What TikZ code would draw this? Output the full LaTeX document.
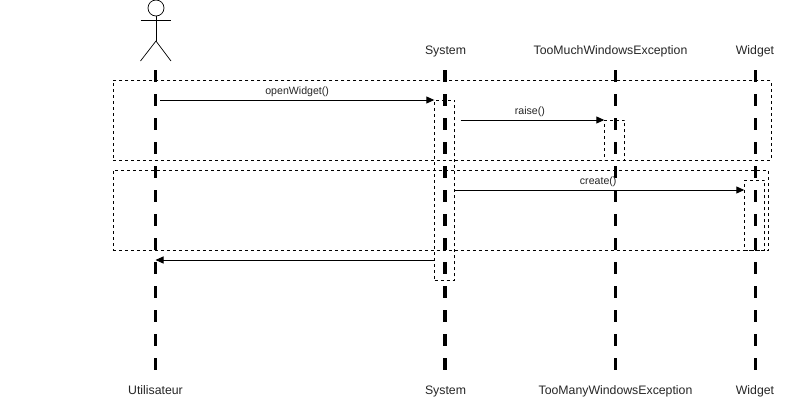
\documentclass[tikz,border=0pt]{standalone}
\usepackage{fontspec}
\setmainfont{Liberation Sans}
\usetikzlibrary{arrows.meta}
\tikzset{
  lifeline/.style={line width=3.8pt,black,dash pattern=on 12pt off 12pt},
  frame/.style={draw=black,line width=0.8pt,dash pattern=on 3pt off 3pt,fill=none},
  msg/.style={line width=0.9pt,-{Triangle[length=8pt,width=7pt]}},
  stick/.style={line width=0.7pt},
  lbl/.style={font=\fontsize{12.3}{14}\selectfont,text=black!85,inner sep=0pt,anchor=base},
  msglbl/.style={font=\fontsize{10.6}{12}\selectfont,text=black!85,inner sep=0pt}
}
\begin{document}
\begin{tikzpicture}[x=1pt,y=-1pt]
\useasboundingbox[fill=white] (0,0) rectangle (787,405);
% lifelines
\foreach \n/\x in {u/155.5,s/445,t/615.5,w/755.5}{
  \coordinate (\n top) at (\x,70);
  \coordinate (\n bot) at (\x,370);
  \draw[lifeline] (\n top) -- (\n bot);
}
% labels
\node[lbl] (ls) at (445.5,54.5) {System};
\node[lbl] (lt) at (610.5,54.5) {TooMuchWindowsException};
\node[lbl] (lw) at (755,54.5) {Widget};
\node[lbl] (bu) at (155.5,394.5) {Utilisateur};
\node[lbl] (bs) at (445.5,394.5) {System};
\node[lbl] (bt) at (615.5,394.5) {TooManyWindowsException};
\node[lbl] (bw) at (755,394.5) {Widget};
% frames
\node[frame,inner sep=0pt,minimum width=657.5pt,minimum height=80pt,anchor=north west] (f1) at (113,80) {};
\node[frame,inner sep=0pt,minimum width=655.5pt,minimum height=80pt,anchor=north west] (f2) at (112.5,170) {};
% activations
\node[frame,inner sep=0pt,minimum width=20pt,minimum height=180pt,anchor=north west] (as) at (434.3,100) {};
\node[frame,inner sep=0pt,minimum width=20pt,minimum height=40pt,anchor=north west] (at) at (604.3,120) {};
\node[frame,inner sep=0pt,minimum width=20pt,minimum height=70pt,anchor=north west] (aw) at (744.3,180) {};
% messages
\coordinate (m1s) at (160,100);
\coordinate (m2s) at (460.5,120);
\coordinate (m4e) at (155.5,260);
\draw[msg] (m1s) -- (as.north west) node[midway,above=2.8pt,msglbl] {openWidget()};
\draw[msg] (m2s) -- (at.north west) node[midway,above=3.2pt,msglbl,xshift=-2.5pt] {raise()};
\coordinate (m3s) at (as.east |- 0,190);
\coordinate (m3e) at (aw.west |- 0,190);
\draw[msg] (m3s) -- (m3e) node[midway,above=2.8pt,msglbl,xshift=-1.5pt] {create()};
\coordinate (m4s) at (as.west |- 0,260);
\draw[msg] (m4s) -- (m4e);
% actor
\node[draw=black,stick,circle,minimum size=16pt,inner sep=0pt] (head) at (156,8) {};
\coordinate (hip) at (156,41);
\coordinate (armL) at (140.5,20);
\coordinate (armR) at (171,20);
\coordinate (legL) at (140.5,61);
\coordinate (legR) at (171,61);
\draw[stick] (head.south) -- (hip);
\draw[stick] (armL) -- (armR);
\draw[stick] (legL) -- (hip) -- (legR);
\end{tikzpicture}
\end{document}
